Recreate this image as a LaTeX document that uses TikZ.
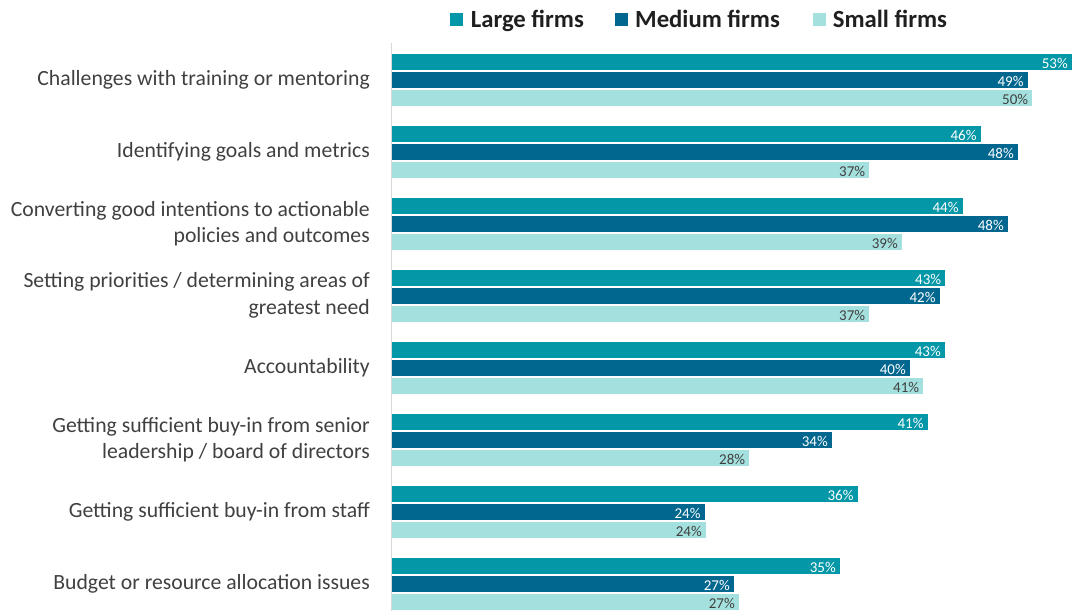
\documentclass[tikz,border=0pt]{standalone}
\usepackage{fontspec}
\setmainfont{Carlito}
\usetikzlibrary{positioning}
\definecolor{largec}{RGB}{4,151,168}
\definecolor{mediumc}{RGB}{2,103,143}
\definecolor{smallc}{RGB}{164,224,221}
\definecolor{txtgray}{RGB}{64,64,64}
\definecolor{axisgray}{RGB}{217,217,217}

\begin{document}
\begin{tikzpicture}[x=1pt,y=-1pt]
\tikzset{
    largebar/.style = {fill=largec},
    mediumbar/.style = {fill=mediumc},
    smallbar/.style = {fill=smallc},
    vallbl/.style = {anchor=base east, inner sep=0pt, xshift=-4pt, yshift=1.8pt,
                     font=\fontsize{15}{18}\selectfont, text=white},
    vallbldark/.style = {vallbl, text=txtgray},
    catlbl/.style = {anchor=east, align=right, inner sep=0pt, text=txtgray,
                     font=\fontsize{21.7}{26.5}\selectfont},
    legsq/.style = {minimum size=12.5pt, inner sep=0pt},
    legtxt/.style = {anchor=base west, inner sep=0pt, font=\bfseries\fontsize{24.7}{28}\selectfont, text=black!88},
}
\useasboundingbox (0,0) rectangle (1073,611);

% legend
\node (lsq) [legsq, fill=largec] at (456.3,19.7) {};
\node (ltx) [legtxt] at (470.7,27.3) {Large firms};
\node (msq) [legsq, fill=mediumc] at (621.3,19.7) {};
\node (mtx) [legtxt] at (635,27.3) {Medium firms};
\node (ssq) [legsq, fill=smallc] at (819.7,19.7) {};
\node (stx) [legtxt] at (832.7,27.3) {Small firms};

% axis
\draw[axisgray, line width=1pt] (391.5,43) -- (391.5,611);

% categories
\node (c1) [catlbl] at (370,79.5) {Challenges with training or mentoring};
\node (c2) [catlbl] at (370,151.5) {Identifying goals and metrics};
\node (c3) [catlbl] at (370,223.5) {Converting good intentions to actionable\\policies and outcomes};
\node (c4) [catlbl] at (370,295.5) {Setting priorities / determining areas of\\greatest need};
\node (c5) [catlbl] at (370,367.5) {Accountability};
\node (c6) [catlbl] at (370,439.5) {Getting sufficient buy-in from senior\\leadership / board of directors};
\node (c7) [catlbl] at (370,511.5) {Getting sufficient buy-in from staff};
\node (c8) [catlbl] at (370,583.5) {Budget or resource allocation issues};

% bars, group 1
\fill[largebar] (392,53.5) rectangle (1072,70) node (l1) [vallbl] {53\%};
\fill[mediumbar] (392,71.7) rectangle (1027.7,87.9) node (m1) [vallbl] {49\%};
\fill[smallbar] (392,89.5) rectangle (1032.3,105.9) node (s1) [vallbldark] {50\%};
% group 2
\fill[largebar] (392,125.5) rectangle (980.7,142) node (l2) [vallbl] {46\%};
\fill[mediumbar] (392,143.7) rectangle (1018,159.9) node (m2) [vallbl] {48\%};
\fill[smallbar] (392,161.5) rectangle (869.3,177.9) node (s2) [vallbldark] {37\%};
% group 3
\fill[largebar] (392,197.5) rectangle (962.7,214) node (l3) [vallbl] {44\%};
\fill[mediumbar] (392,215.7) rectangle (1008,231.9) node (m3) [vallbl] {48\%};
\fill[smallbar] (392,233.5) rectangle (902,249.9) node (s3) [vallbldark] {39\%};
% group 4
\fill[largebar] (392,269.5) rectangle (945.3,286) node (l4) [vallbl] {43\%};
\fill[mediumbar] (392,287.7) rectangle (939.7,303.9) node (m4) [vallbl] {42\%};
\fill[smallbar] (392,305.5) rectangle (869.3,321.9) node (s4) [vallbldark] {37\%};
% group 5
\fill[largebar] (392,341.5) rectangle (945,358) node (l5) [vallbl] {43\%};
\fill[mediumbar] (392,359.7) rectangle (910,375.9) node (m5) [vallbl] {40\%};
\fill[smallbar] (392,377.5) rectangle (923.3,393.9) node (s5) [vallbldark] {41\%};
% group 6
\fill[largebar] (392,413.5) rectangle (927.7,430) node (l6) [vallbl] {41\%};
\fill[mediumbar] (392,431.7) rectangle (832,447.9) node (m6) [vallbl] {34\%};
\fill[smallbar] (392,449.5) rectangle (749.3,465.9) node (s6) [vallbldark] {28\%};
% group 7
\fill[largebar] (392,485.5) rectangle (857.7,502) node (l7) [vallbl] {36\%};
\fill[mediumbar] (392,503.7) rectangle (704.7,519.9) node (m7) [vallbl] {24\%};
\fill[smallbar] (392,521.5) rectangle (706,537.9) node (s7) [vallbldark] {24\%};
% group 8
\fill[largebar] (392,557.5) rectangle (840,574) node (l8) [vallbl] {35\%};
\fill[mediumbar] (392,575.7) rectangle (734,591.9) node (m8) [vallbl] {27\%};
\fill[smallbar] (392,593.5) rectangle (739,609.9) node (s8) [vallbldark] {27\%};
\end{tikzpicture}
\end{document}
